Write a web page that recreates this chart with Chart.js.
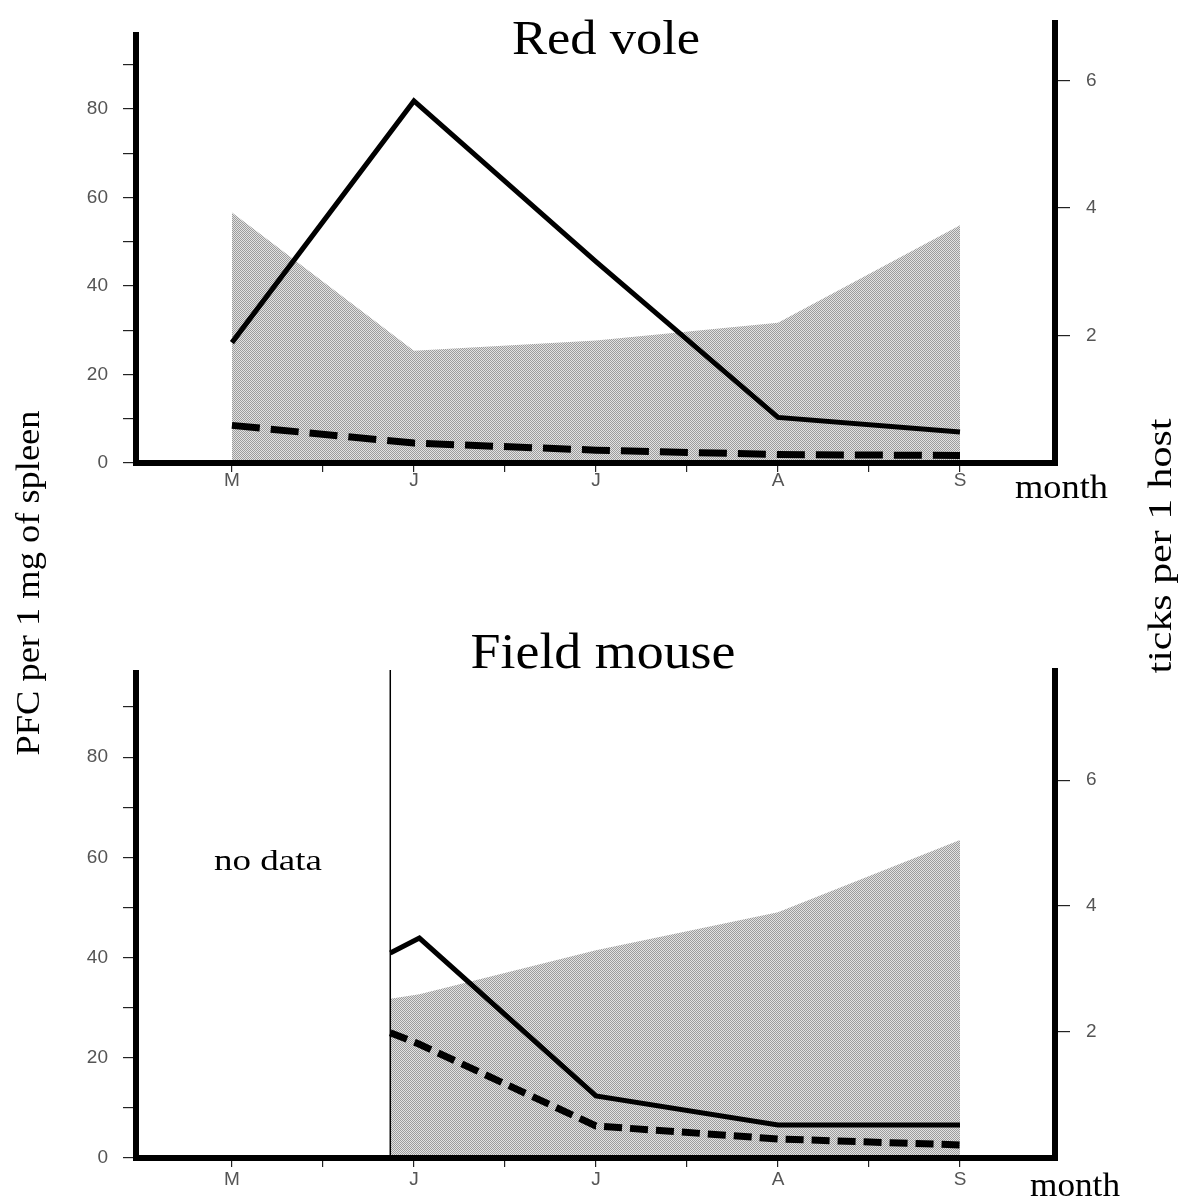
<!DOCTYPE html>
<html>
<head>
<meta charset="utf-8">
<script src="https://cdn.jsdelivr.net/npm/chart.js@4.4.1/dist/chart.umd.min.js"></script>
<style>
  html, body { margin: 0; padding: 0; background: #fff; }
  #wrap { position: relative; width: 1179px; height: 1199px; }
  canvas { position: absolute; left: 0; top: 0; }
</style>
</head>
<body>
<div id="wrap">
  <canvas id="redVole" width="1179" height="1199"></canvas>
  <canvas id="fieldMouse" width="1179" height="1199"></canvas>
</div>
<script>
// x positions are months: 0 = M, 1 = J, 2 = J, 3 = A, 4 = S
const monthLabels = ['M', 'J', 'J', 'A', 'S'];
const xTicks = [0, 0.5, 1, 1.5, 2, 2.5, 3, 3.5, 4];
const pfcTicks = [0, 10, 20, 30, 40, 50, 60, 70, 80, 90];
const hostTicks = [2, 4, 6];

// Red vole
const rvMonths = [0, 1, 2, 3, 4];
const rvSolid = [27.2, 81.8, 45.5, 10.3, 7.0];
const rvDashed = [8.5, 4.5, 2.9, 1.9, 1.7];
const rvTicksHost = [3.93, 1.76, 1.92, 2.2, 3.73];

// Field mouse (no data before early June)
const fmMonths = [0.87, 1.03, 2, 3, 4];
const fmSolid = [40.9, 43.9, 12.4, 6.6, 6.6];
const fmDashed = [25, 22.7, 6.4, 3.8, 2.6];
const fmTicksHost = [2.53, 2.6, 3.3, 3.9, 5.05];
const fmNoDataEnd = 0.87;

// stippled grey like the scanned print
const pc = document.createElement('canvas');
pc.width = 2; pc.height = 2;
const pctx = pc.getContext('2d');
pctx.fillStyle = '#e2e2e2'; pctx.fillRect(0, 0, 2, 2);
pctx.fillStyle = '#9c9c9c'; pctx.fillRect(0, 0, 1, 1); pctx.fillRect(1, 1, 1, 1);
const stipple = document.getElementById('redVole').getContext('2d').createPattern(pc, 'repeat');

const tickFont = { family: 'Liberation Sans', size: 19 };
const tickColor = '#555';

// axis frame, divider line and loose texts (stretched to the scanned widths)
const frame = {
  id: 'frame',
  afterDatasetsDraw(chart, args, opts) {
    const { ctx, chartArea: a, scales } = chart;
    ctx.save();
    if (opts.dividerAt != null) {
      const px = scales.x.getPixelForValue(opts.dividerAt);
      ctx.strokeStyle = '#000';
      ctx.lineWidth = 1.5;
      ctx.beginPath();
      ctx.moveTo(px, a.top + 2);
      ctx.lineTo(px, a.bottom);
      ctx.stroke();
    }
    ctx.strokeStyle = '#000';
    ctx.lineWidth = 6;
    ctx.lineJoin = 'miter';
    ctx.beginPath();
    ctx.moveTo(a.left, scales.y.getPixelForValue(opts.leftTop));
    ctx.lineTo(a.left, a.bottom);
    ctx.lineTo(a.right, a.bottom);
    ctx.lineTo(a.right, a.top);
    ctx.stroke();

    ctx.fillStyle = '#000';
    ctx.textBaseline = 'alphabetic';
    (opts.texts || []).forEach(t => {
      ctx.save();
      ctx.font = t.size + 'px "Liberation Serif", "Times New Roman", serif';
      ctx.textAlign = t.align || 'center';
      ctx.translate(t.x, t.y);
      if (t.rotate) ctx.rotate(-Math.PI / 2);
      if (t.width) ctx.scale(t.width / ctx.measureText(t.text).width, 1);
      ctx.fillText(t.text, 0, 0);
      ctx.restore();
    });
    ctx.restore();
  }
};

// keep the plot area where the layout padding puts it
function noPad(s) {
  s.paddingTop = 0; s.paddingBottom = 0; s.paddingLeft = 0; s.paddingRight = 0;
}

function datasets(xs, solid, dashed, host, dash) {
  const pts = arr => arr.map((v, i) => ({ x: xs[i], y: v }));
  return [
    { data: pts(solid), yAxisID: 'y', borderColor: '#000', borderWidth: 5, pointRadius: 0, fill: false, tension: 0 },
    { data: pts(dashed), yAxisID: 'y', borderColor: '#000', borderWidth: 7, borderDash: dash, pointRadius: 0, fill: false, tension: 0 },
    { data: pts(host), yAxisID: 'y2', borderColor: 'rgba(0,0,0,0)', borderWidth: 1, backgroundColor: stipple, fill: 'origin', pointRadius: 0, tension: 0 }
  ];
}

function scales(c) {
  return {
    x: {
      type: 'linear', min: -0.527, max: 4.522,
      afterBuildTicks: s => { s.ticks = xTicks.map(v => ({ value: v })); },
      afterFit: s => { s.height = c.xHeight; noPad(s); },
      border: { display: false },
      grid: { drawOnChartArea: false, tickLength: 9, color: '#222', lineWidth: 1.2 },
      ticks: { autoSkip: false, maxRotation: 0, padding: c.xPad, color: tickColor, font: tickFont,
        callback: v => Number.isInteger(v) ? monthLabels[v] : '' }
    },
    y: {
      position: 'left', min: 0, max: c.yMax,
      afterBuildTicks: s => { s.ticks = pfcTicks.map(v => ({ value: v })); },
      afterFit: s => { s.width = 136; noPad(s); },
      border: { display: false },
      grid: { drawOnChartArea: false, tickLength: 13, color: '#222', lineWidth: 1.2 },
      ticks: { autoSkip: false, padding: 15, color: tickColor, font: tickFont,
        callback: v => v % 20 === 0 ? v : '' }
    },
    y2: {
      position: 'right', min: 0, max: c.y2Max,
      afterBuildTicks: s => { s.ticks = hostTicks.map(v => ({ value: v })); },
      afterFit: s => { s.width = 124; noPad(s); },
      border: { display: false },
      grid: { drawOnChartArea: false, tickLength: 15, color: '#222', lineWidth: 1.2 },
      ticks: { autoSkip: false, padding: 16, color: tickColor, font: tickFont }
    }
  };
}

new Chart(document.getElementById('redVole'), {
  type: 'line',
  data: { datasets: datasets(rvMonths, rvSolid, rvDashed, rvTicksHost, [28, 11]) },
  options: {
    responsive: false, animation: false, events: [],
    layout: { padding: { top: 20, bottom: 679, left: 0, right: 0 } },
    scales: scales({ xHeight: 57, xPad: -3, yMax: 100.1, y2Max: 6.95 }),
    plugins: {
      legend: { display: false }, tooltip: { enabled: false },
      frame: {
        leftTop: 97.4,
        texts: [
          { text: 'Red vole', x: 606, y: 54, size: 48, width: 188 },
          { text: 'month', x: 1015, y: 498, size: 34, width: 93, align: 'left' },
          { text: 'PFC per 1 mg of spleen', x: 39, y: 583, size: 33, width: 345, rotate: true },
          { text: 'ticks per 1 host', x: 1171, y: 546, size: 33, width: 255, rotate: true }
        ]
      }
    }
  },
  plugins: [frame]
});

new Chart(document.getElementById('fieldMouse'), {
  type: 'line',
  data: { datasets: datasets(fmMonths, fmSolid, fmDashed, fmTicksHost, [18, 8]) },
  options: {
    responsive: false, animation: false, events: [],
    layout: { padding: { top: 668, bottom: 0, left: 0, right: 0 } },
    scales: scales({ xHeight: 41, xPad: 1, yMax: 97.8, y2Max: 7.78 }),
    plugins: {
      legend: { display: false }, tooltip: { enabled: false },
      frame: {
        leftTop: 97.4,
        dividerAt: fmNoDataEnd,
        texts: [
          { text: 'Field mouse', x: 603, y: 668, size: 50, width: 265 },
          { text: 'month', x: 1030, y: 1196, size: 34, width: 90, align: 'left' },
          { text: 'no data', x: 268, y: 870, size: 30, width: 108 }
        ]
      }
    }
  },
  plugins: [frame]
});
</script>
</body>
</html>
